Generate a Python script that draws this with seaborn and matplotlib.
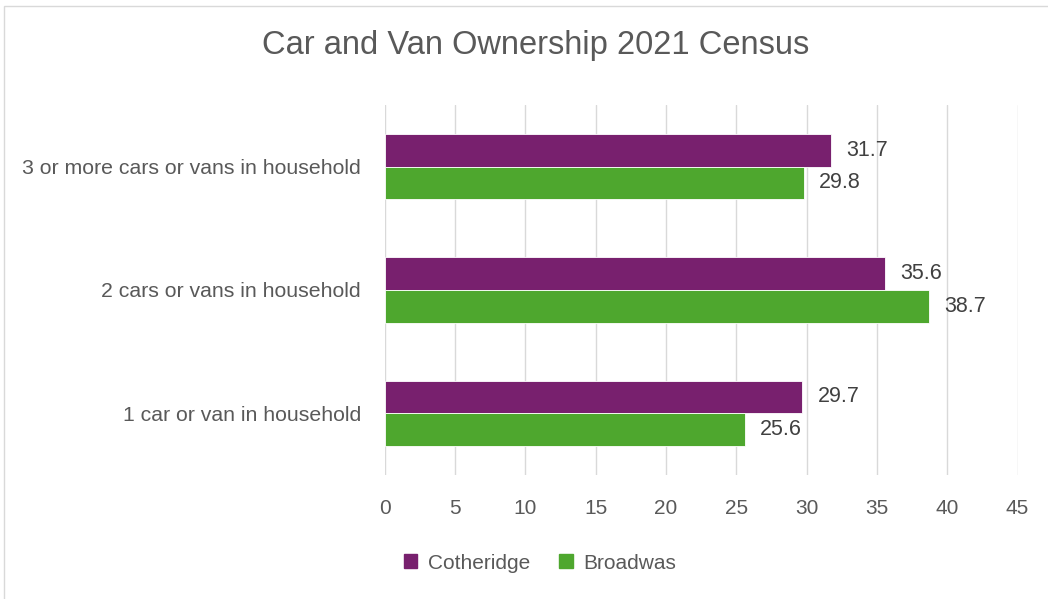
import pandas as pd
import seaborn as sns
import matplotlib.pyplot as plt
from matplotlib.patches import Rectangle

categorias = ['3 or more cars or vans in household', '2 cars or vans in household', '1 car or van in household']
series = ['Cotheridge', 'Broadwas']
cotheridge = [31.7, 35.6, 29.7]
broadwas = [29.8, 38.7, 25.6]
colores = ['#78206E', '#4EA72E']
ticks_x = [0, 5, 10, 15, 20, 25, 30, 35, 40, 45]

df = pd.DataFrame({
    'categoria': categorias * 2,
    'serie': [series[0]] * 3 + [series[1]] * 3,
    'valor': cotheridge + broadwas,
})

sns.set_style('white')
plt.rcParams['font.family'] = ['Liberation Sans', 'DejaVu Sans']
gris = '#595959'

fig = plt.figure(figsize=(10.48, 5.99), dpi=100)
ax = fig.add_axes([0.367, 0.207, 0.604, 0.618])

sns.barplot(data=df, x='valor', y='categoria', hue='serie', order=categorias, hue_order=series,
            palette=colores, saturation=1, orient='h', width=0.53, edgecolor='white', linewidth=0.6, ax=ax)

for cont in ax.containers:
    ax.bar_label(cont, fmt='%.1f', padding=11, fontsize=15.5, color='#404040')

ax.set_xlim(0, 45)
ax.set_xticks(ticks_x)
ax.set_ylim(2.5, -0.5)
ax.grid(axis='x', color='#D9D9D9', linewidth=1)
ax.set_axisbelow(True)
for s in ax.spines.values():
    s.set_visible(False)
ax.tick_params(axis='x', labelsize=15, colors=gris, length=0, pad=17)
ax.tick_params(axis='y', labelsize=15.3, colors=gris, length=0, pad=17)
ax.set_xlabel('')
ax.set_ylabel('')

ax.legend_.remove()
handles = [Rectangle((0, 0), 1, 1, color=c) for c in colores]
fig.legend(handles, series, loc='center', bbox_to_anchor=(0.515, 0.06), ncol=2, frameon=False,
           fontsize=15, labelcolor=gris, handlelength=0.65, handleheight=0.65, handletextpad=0.5, columnspacing=1.4)

fig.suptitle('Car and Van Ownership 2021 Census', x=0.511, y=0.95, fontsize=23.5, color=gris)

# borde del área del gráfico
fig.patches.append(Rectangle((0.004, -0.1), 1.2, 1.09, transform=fig.transFigure, fill=False,
                             edgecolor='#D9D9D9', linewidth=1))

fig.savefig('out.png', dpi=100)
